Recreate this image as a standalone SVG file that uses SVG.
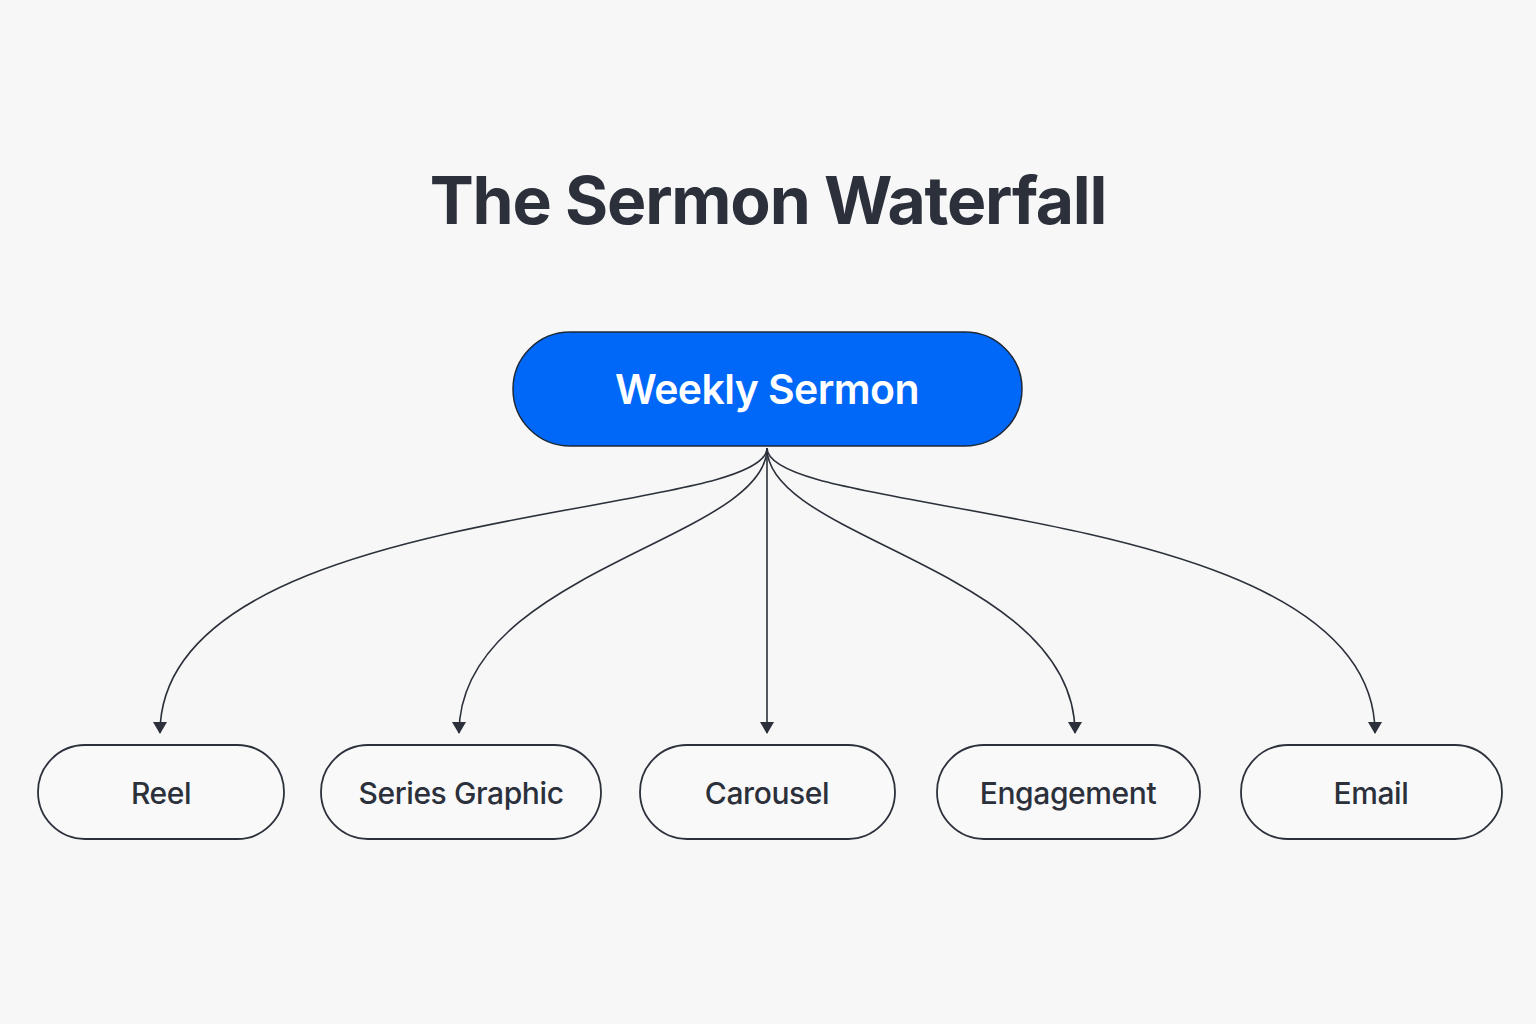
<svg xmlns="http://www.w3.org/2000/svg" width="1536" height="1024" viewBox="0 0 1536 1024">
<defs>
<marker id="ah" viewBox="0 0 12 14" refX="11" refY="7" markerWidth="12" markerHeight="14" markerUnits="userSpaceOnUse" orient="auto">
<path d="M0,0 L12,7 L0,14 Z" fill="#2b303a"/>
</marker>
<style>
.bg{fill:#f7f7f8}
.title{font-family:Inter,"Liberation Sans",sans-serif;font-weight:700;font-size:66px;letter-spacing:-1.2px;fill:#2b303a;text-anchor:middle}
.main rect{fill:#0068f8;stroke:#1f2937;stroke-width:1.5}
.main text{font-family:Inter,"Liberation Sans",sans-serif;font-weight:600;font-size:41px;letter-spacing:-0.6px;fill:#ffffff;text-anchor:middle}
.leaf rect{fill:#f9f9fa;stroke:#2b303a;stroke-width:1.8}
.leaf text{font-family:Inter,"Liberation Sans",sans-serif;font-weight:500;font-size:30px;letter-spacing:-0.4px;fill:#2b303a;text-anchor:middle}
.conn path{fill:none;stroke:#2b303a;stroke-width:1.6;marker-end:url(#ah)}
</style>
</defs>
<rect class="bg" x="0" y="0" width="1536" height="1024"/>
<text class="title" x="768" y="224">The Sermon Waterfall</text>
<g class="conn" id="connectors">
<path d="M767,448 C767,520 160,500 160,733"/>
<path d="M767,448 C767,540 459,570 459,733"/>
<path d="M767,448 L767,733"/>
<path d="M767,448 C767,540 1075,570 1075,733"/>
<path d="M767,448 C767,520 1375,500 1375,733"/>
</g>
<g class="main" id="weekly-sermon">
<rect x="513" y="332" width="509" height="114" rx="57"/>
<text x="767" y="404">Weekly Sermon</text>
</g>
<g class="leaf" id="reel">
<rect x="38" y="745" width="246" height="94" rx="47"/>
<text x="161" y="804">Reel</text>
</g>
<g class="leaf" id="series-graphic">
<rect x="321" y="745" width="280" height="94" rx="47"/>
<text x="461" y="804">Series Graphic</text>
</g>
<g class="leaf" id="carousel">
<rect x="640" y="745" width="255" height="94" rx="47"/>
<text x="767" y="804">Carousel</text>
</g>
<g class="leaf" id="engagement">
<rect x="937" y="745" width="263" height="94" rx="47"/>
<text x="1068" y="804">Engagement</text>
</g>
<g class="leaf" id="email">
<rect x="1241" y="745" width="261" height="94" rx="47"/>
<text x="1371" y="804">Email</text>
</g>
</svg>
